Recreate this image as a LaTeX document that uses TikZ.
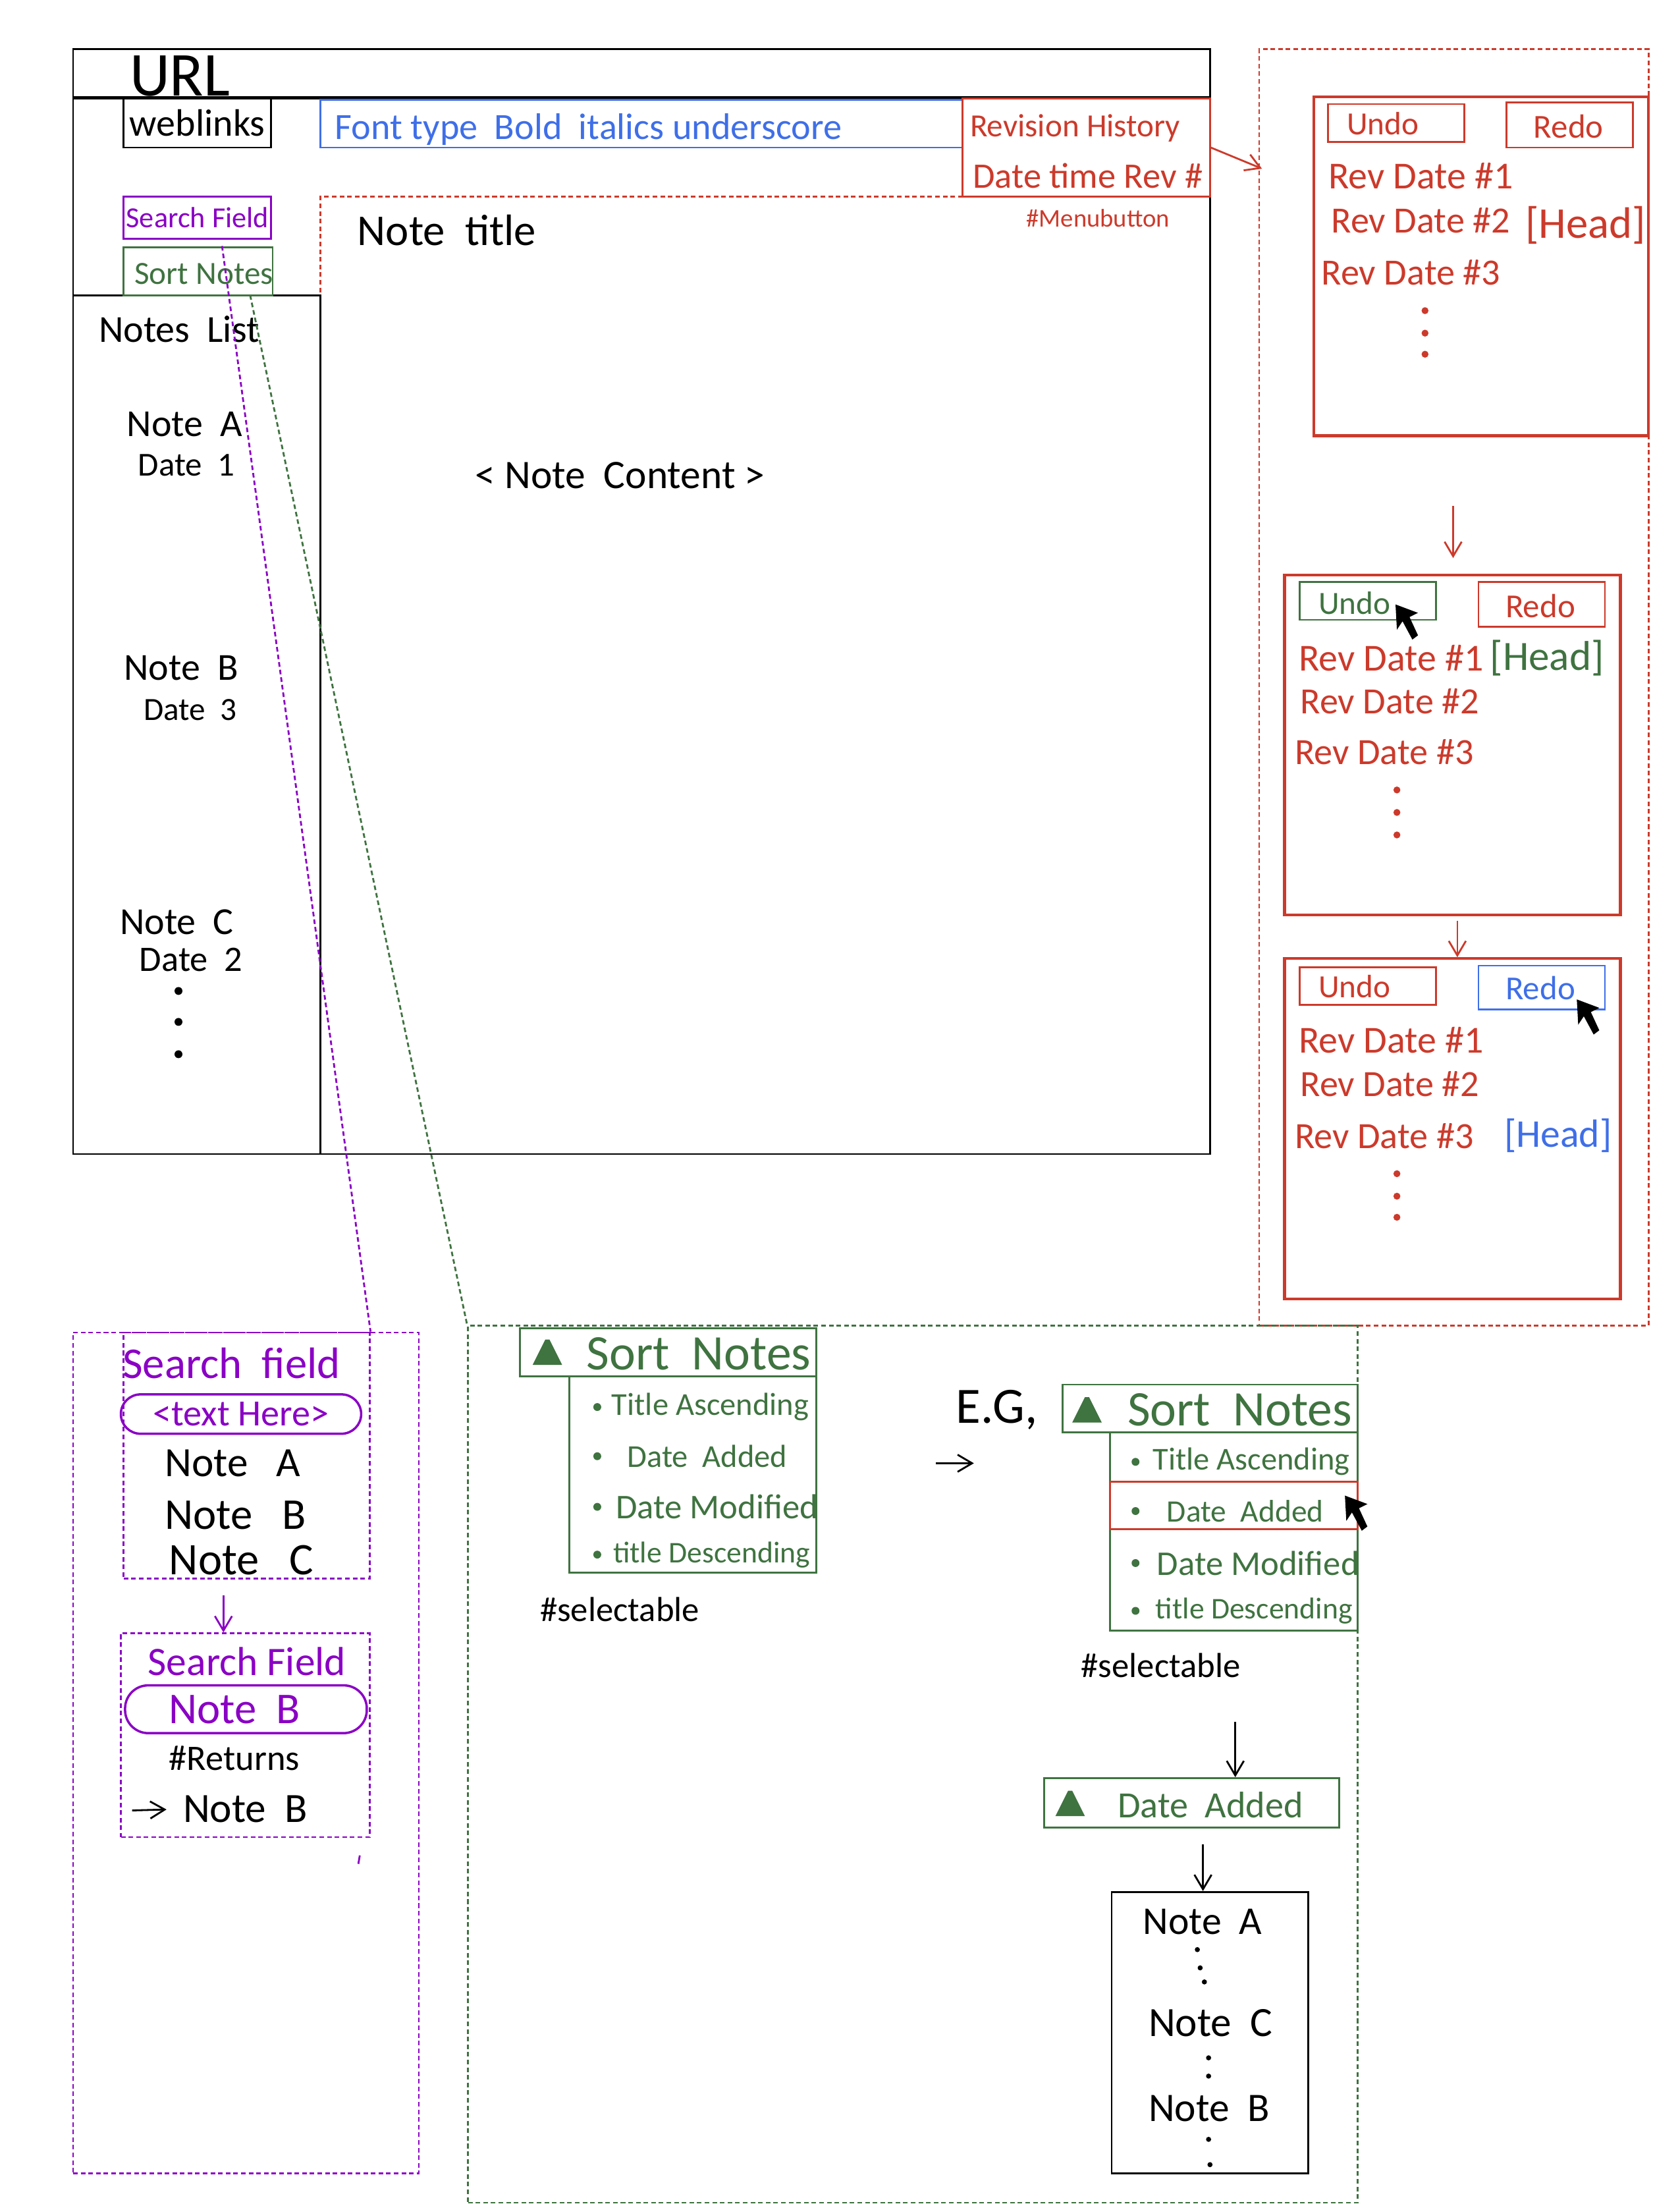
\documentclass[tikz,border=0pt]{standalone}
\usepackage{fontspec}
\setmainfont{Carlito}
\usetikzlibrary{arrows.meta,calc,positioning,fit}
\definecolor{Red}{HTML}{CC3A2B}
\definecolor{Blue}{HTML}{3F6FE8}
\definecolor{Purple}{HTML}{8A00C4}
\definecolor{Green}{HTML}{3F7340}
\tikzset{
  hand/.style={font=\fontsize{#1}{#1}\selectfont,inner sep=0pt,anchor=west},
  redhand/.style={hand=#1,text=Red},
  bluehand/.style={hand=#1,text=Blue},
  purplehand/.style={hand=#1,text=Purple},
  greenhand/.style={hand=#1,text=Green},
  frame/.style={draw=#1,inner sep=0pt,line width=0.8pt},
  heavyframe/.style={draw=#1,inner sep=0pt,line width=1.2pt},
  dashframe/.style={draw=#1,inner sep=0pt,line width=0.8pt,dash pattern=on 2pt off 1.3pt},
  oval/.style={draw=Purple,inner sep=0pt,line width=1pt,rounded corners=#1},
  pointer/.style={line width=0.8pt,-{Straight Barb[length=2.2mm,width=2.6mm]}},
  cursor/.pic={\fill[black] (0,0)--(16,6)--(10,9)--(16,22)--(12,25)--(5,12)--(1,18)--cycle;},
  sorticon/.pic={\fill[Green] (-10,9)--(-1,-9)--(2,-9)--(11,9)--cycle;},
}
\begin{document}
\begin{tikzpicture}[x=0.02134cm,y=-0.02134cm]
\useasboundingbox (0,0) rectangle (1195,1568);
% main window
\node[frame=black,fit={(52,35)(861,69)}] (urlbar) {};
\node[frame=black,fit={(52,69)(861,821)}] (mainwin) {};
\draw[line width=1.3pt] (urlbar.south west)--(urlbar.south east);
\node[frame=black,fit={(52,210)(228,821)}] (noteslist) {};
\node[frame=black,fit={(88,70)(193,105)}] (weblinks) {};
\node[frame=Blue,fit={(228,71)(685,105)}] (toolbar) {};
\node[frame=Red,fit={(685,70)(861,140)}] (revision) {};
\node[frame=Purple,fit={(88,140)(193,170)}] (searchbox) {};
\node[frame=Green,fit={(88,176)(194,210)}] (sortbox) {};
\draw[dashframe=Red] (685,140)--(228,140)--(228,210);
\node[hand=16.5,anchor=center] (weblinkstext) at (weblinks) {weblinks};
\node[purplehand=12.6,anchor=center] (searchboxtext) at (searchbox) {Search Field};
\node[greenhand=14,anchor=center] (sortboxtext) at (145,195) {Sort Notes};
\node[hand=27] (urltext) at (92,54) {URL};
\node[bluehand=16] (fonttext) at (238,92) {Font type \ Bold \ italics underscore};
\node[redhand=14] (revtext) at (690,91) {Revision History};
\node[redhand=15.5] (datetext) at (692,125) {Date time Rev \#};
\node[redhand=11] (menutext) at (730,155) {\#Menubutton};
\node[hand=19] (titletext) at (254,164) {Note \ title};
\node[hand=17.5] (contenttext) at (338,338) {< Note \ Content >};
\node[hand=16.5] (listtext) at (70,234) {Notes \ List};
\node[hand=16.5] (notea) at (90,302) {Note \ A};
\node[hand=14.5] (datea) at (98,331) {Date \ 1};
\node[hand=16.5] (noteb) at (88,475) {Note \ B};
\node[hand=14] (dateb) at (102,505) {Date \ 3};
\node[hand=16.5] (notec) at (85,656) {Note \ C};
\node[hand=15.5] (datec) at (99,683) {Date \ 2};
\foreach \y in {705,727,750} \fill (127,\y) circle (1.7pt);
% revision history panel
\node[dashframe=Red,fit={(896,35)(1173,943)}] (revpanel) {};
\coordinate (reventry) at (898,120);
\draw[pointer,Red] (revision.east)--(reventry);
\node[heavyframe=Red,fit={(935,69)(1173,310)}] (revone) {};
\node[frame=Red,fit={(945,74)(1042,101)}] (undoone) {};
\node[frame=Red,fit={(1072,73)(1162,105)}] (redoone) {};
\node[redhand=14] (undoonetext) at (958,88) {Undo};
\node[redhand=14.5] (redoonetext) at (1091,90) {Redo};
\node[redhand=16.5] (revonea) at (945,125) {Rev Date \#1};
\node[redhand=16] (revoneb) at (947,157) {Rev Date \#2};
\node[redhand=16] (revonec) at (940,194) {Rev Date \#3};
\node[redhand=19] (headone) at (1085,160) {[Head]};
\foreach \y in {221,237,252} \fill[Red] (1014,\y) circle (1.5pt);
\coordinate (revarrowa) at (1034,360);
\coordinate (revarrowb) at (1034,397);
\draw[pointer,Red] (revarrowa)--(revarrowb);
\node[heavyframe=Red,fit={(914,409)(1153,651)}] (revtwo) {};
\node[frame=Green,fit={(925,414)(1022,441)}] (undotwo) {};
\node[frame=Red,fit={(1052,414)(1142,446)}] (redotwo) {};
\node[greenhand=14] (undotwotext) at (938,429) {Undo};
\node[redhand=14.5] (redotwotext) at (1071,431) {Redo};
\node[redhand=16.5] (revtwoa) at (924,468) {Rev Date \#1};
\node[redhand=16] (revtwob) at (925,499) {Rev Date \#2};
\node[redhand=16] (revtwoc) at (921,535) {Rev Date \#3};
\node[greenhand=18] (headtwo) at (1060,468) {[Head]};
\foreach \y in {562,578,594} \fill[Red] (994,\y) circle (1.5pt);
\pic at (993,430) {cursor};
\coordinate (revarrowc) at (1037,655);
\node[heavyframe=Red,fit={(914,682)(1153,924)}] (revthree) {};
\draw[pointer,Red] (revarrowc)--(revarrowc |- revthree.north);
\node[frame=Red,fit={(925,688)(1022,715)}] (undothree) {};
\node[frame=Blue,fit={(1052,687)(1142,718)}] (redothree) {};
\node[redhand=14] (undothreetext) at (938,702) {Undo};
\node[bluehand=14.5] (redothreetext) at (1071,703) {Redo};
\node[redhand=16.5] (revthreea) at (924,740) {Rev Date \#1};
\node[redhand=16] (revthreeb) at (925,771) {Rev Date \#2};
\node[redhand=16] (revthreec) at (921,808) {Rev Date \#3};
\node[bluehand=17] (headthree) at (1070,808) {[Head]};
\foreach \y in {835,851,866} \fill[Red] (994,\y) circle (1.5pt);
\pic at (1122,711) {cursor};
% search panel
\node[dashframe=Purple,fit={(52,948)(298,1546)}] (searchpanel) {};
\node[dashframe=Purple,fit={(88,948)(263,1123)}] (searchone) {};
\node[dashframe=Purple,fit={(86,1162)(263,1307)}] (searchtwo) {};
\coordinate (searchtail) at (158,175);
\draw[dashframe=Purple] (searchtail)--(searchone.north east);
\node[purplehand=19] (searchtexta) at (87,970) {Search \ field};
\node[oval=8.5pt,fit={(86,992)(257,1020)}] (textfield) {};
\node[purplehand=16,anchor=center] (textfieldtext) at (textfield) {<text Here>};
\node[hand=18] (searchnotea) at (117,1041) {Note \ \ A};
\node[hand=19] (searchnoteb) at (117,1078) {Note \ \ B};
\node[hand=19.5] (searchnotec) at (120,1110) {Note \ \ C};
\coordinate (searcharrow) at (159,1135);
\draw[pointer,Purple] (searcharrow)--(searcharrow |- searchtwo.north);
\node[purplehand=17.5] (searchtextb) at (105,1182) {Search Field};
\node[oval=10pt,fit={(89,1199)(261,1233)}] (notefield) {};
\node[purplehand=19,anchor=center] (notefieldtext) at (167,1216) {Note \ B};
\node[hand=15.5] (returnstext) at (120,1251) {\#Returns};
\coordinate (returnsarrow) at (94,1288);
\node[hand=18] (returnsnote) at (130,1287) {Note \ B};
\draw[pointer,shorten >=7pt] (returnsarrow)--(returnsnote.west);
\draw[Purple,line width=0.8pt] (256,1320)--(255,1326);
% sort panel
\node[dashframe=Green,fit={(333,943)(966,1567)}] (sortpanel) {};
\coordinate (sorttail) at (178,210);
\draw[dashframe=Green] (sorttail)--(sortpanel.north west);
\node[frame=Green,fit={(370,945)(581,979)}] (sorthead) {};
\node[frame=Green,fit={(405,979)(581,1119)}] (sortdrop) {};
\pic at (389,962) {sorticon};
\node[greenhand=21.5] (sorttext) at (417,963) {Sort \ Notes};
\foreach \y in {1001,1036,1072,1106} \fill[Green] (425,\y) circle (1.7pt);
\node[greenhand=13.8] (itema) at (435,1001) {Title Ascending};
\node[greenhand=13.8] (itemb) at (446,1036) {Date \ Added};
\node[greenhand=15] (itemc) at (438,1072) {Date Modified};
\node[greenhand=13] (itemd) at (436,1106) {title Descending};
\node[hand=15] (selecttext) at (384,1145) {\#selectable};
\node[hand=22] (egtext) at (680,1003) {E.G,};
\coordinate (egarrowa) at (666,1041);
\coordinate (egarrowb) at (693,1041);
\draw[pointer] (egarrowa)--(egarrowb);
\node[frame=Green,fit={(756,985)(966,1019)}] (sortheadb) {};
\node[frame=Green,fit={(790,1019)(966,1160)}] (sortdropb) {};
\pic at (773,1003) {sorticon};
\node[greenhand=21.5] (sorttextb) at (802,1003) {Sort \ Notes};
\foreach \y in {1040,1075,1112,1146} \fill[Green] (808,\y) circle (1.7pt);
\node[greenhand=13.8] (itemba) at (820,1040) {Title Ascending};
\node[greenhand=13.5] (itembb) at (830,1075) {Date \ Added};
\node[greenhand=15] (itembc) at (823,1112) {Date Modified};
\node[greenhand=13] (itembd) at (822,1146) {title Descending};
\node[frame=Red,fit={(790,1054)(966,1088)}] (selectedrow) {};
\pic at (957,1064) {cursor};
\node[hand=15] (selecttextb) at (769,1185) {\#selectable};
\node[frame=Green,fit={(743,1265)(953,1300)}] (datehead) {};
\coordinate (datearrow) at (879,1225);
\draw[pointer] (datearrow)--(datearrow |- datehead.north);
\pic at (761,1283) {sorticon};
\node[greenhand=16] (dateaddedtext) at (795,1284) {Date \ Added};
\node[frame=black,fit={(791,1346)(931,1546)}] (sortedbox) {};
\coordinate (sortedarrow) at (856,1312);
\draw[pointer] (sortedarrow)--(sortedarrow |- sortedbox.north);
\node[hand=17] (sorteda) at (813,1367) {Note \ A};
\node[hand=18] (sortedc) at (817,1439) {Note \ C};
\node[hand=17.5] (sortedb) at (817,1500) {Note \ B};
\foreach \x/\y in {852/1387,854/1400,857/1410,860/1464,860/1477,860/1522,861/1540} \fill (\x,\y) circle (1.1pt);
\end{tikzpicture}
\end{document}
